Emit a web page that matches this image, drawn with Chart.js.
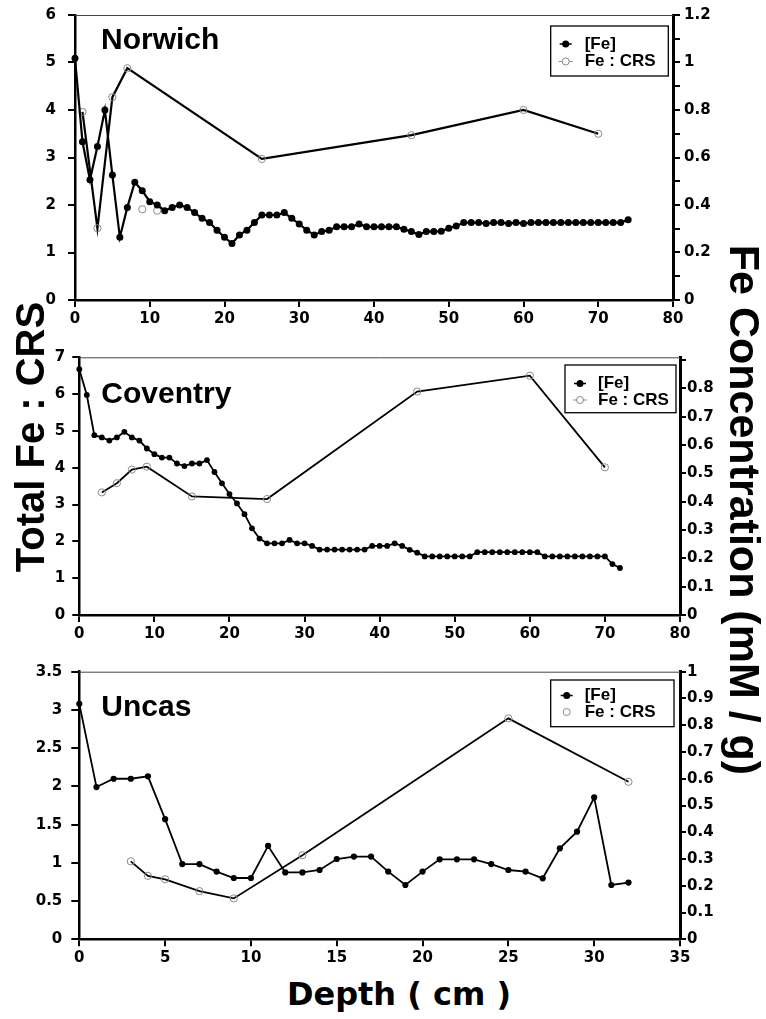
<!DOCTYPE html>
<html><head><meta charset="utf-8">
<script src="https://cdn.jsdelivr.net/npm/chart.js@4.4.1/dist/chart.umd.min.js"></script>
<style>
html,body{margin:0;padding:0;background:#fff;}
body{width:766px;height:1019px;position:relative;overflow:hidden;}
.pc{position:absolute;left:0;width:766px;}
.lbl{position:absolute;font-weight:bold;color:#000;white-space:nowrap;text-align:center;}
</style></head><body>
<div class="pc" style="top:0;height:335px"><canvas id="c1" width="766" height="335"></canvas></div>
<div class="pc" style="top:340px;height:310px"><canvas id="c2" width="766" height="310"></canvas></div>
<div class="pc" style="top:655px;height:320px"><canvas id="c3" width="766" height="320"></canvas></div>
<div class="lbl" style="left:-270px;top:417px;width:600px;height:40px;line-height:40px;font-size:40px;font-family:'Liberation Sans',Arial,sans-serif;transform:rotate(-90deg);">Total Fe : CRS</div>
<div class="lbl" style="left:445px;top:490px;width:600px;height:40px;line-height:40px;font-size:43px;font-family:'Liberation Sans',Arial,sans-serif;transform:rotate(90deg);">Fe Concentration (mM / g)</div>
<div class="lbl" style="left:399px;top:978px;height:32px;line-height:32px;font-size:32px;font-family:'DejaVu Sans',sans-serif;transform:translateX(-50%);">Depth ( cm )</div>
<script>
// ---------- Norwich ----------
const norDepthFe = [0,1,2,3,4,5,6,7,8,9,10,11,12,13,14,15,16,17,18,19,20,21,22,23,24,25,26,27,28,29,30,31,32,33,34,35,36,37,38,39,40,41,42,43,44,45,46,47,48,49,50,51,52,53,54,55,56,57,58,59,60,61,62,63,64,65,66,67,68,69,70,71,72,73,74];
const norFe = [1.018,0.666,0.506,0.646,0.800,0.526,0.264,0.390,0.496,0.460,
  0.414,0.400,0.376,0.390,0.400,0.390,0.368,0.344,0.326,0.294,
  0.264,0.238,0.274,0.294,0.326,0.358,0.358,0.358,0.368,0.344,
  0.320,0.294,0.274,0.288,0.294,0.308,0.308,0.308,0.320,0.308,
  0.308,0.308,0.308,0.308,0.298,0.288,0.276,0.288,0.288,0.290,
  0.302,0.312,0.326,0.326,0.326,0.322,0.326,0.326,0.322,0.326,
  0.322,0.326,0.326,0.326,0.326,0.326,0.326,0.326,0.326,0.326,
  0.326,0.326,0.326,0.326,0.338];
const norDepthCrs = [1,3,5,7,25,45,60,70];
const norCrs = [3.96,1.51,4.27,4.88,2.97,3.47,4.00,3.50];
const norDepthCrsLoose = [9,11];
const norCrsLoose = [1.91,1.88];
const norXTicks = [0,10,20,30,40,50,60,70,80];
const norXLabels = ['0','10','20','30','40','50','60','70','80'];
const norLeftTicks = [0,1,2,3,4,5,6];
const norLeftLabels = ['0','1','2','3','4','5','6'];
const norRightTicks = [0,0.1,0.2,0.3,0.4,0.5,0.6,0.7,0.8,0.9,1.0,1.1,1.2];
const norRightLabels = ['0','','0.2','','0.4','','0.6','','0.8','','1','','1.2'];

// ---------- Coventry ----------
const covDepthFe = [0,1,2,3,4,5,6,7,8,9,10,11,12,13,14,15,16,17,18,19,20,21,22,23,24,25,26,27,28,29,30,31,32,33,34,35,36,37,38,39,40,41,42,43,44,45,46,47,48,49,50,51,52,53,54,55,56,57,58,59,60,61,62,63,64,65,66,67,68,69,70,71,72];
const covFe = [0.868,0.777,0.635,0.627,0.616,0.627,0.647,0.627,0.616,0.588,
  0.568,0.556,0.556,0.535,0.526,0.535,0.535,0.547,0.505,0.465,
  0.427,0.394,0.356,0.306,0.270,0.253,0.253,0.253,0.265,0.253,
  0.253,0.244,0.231,0.231,0.231,0.231,0.231,0.231,0.231,0.244,
  0.244,0.244,0.253,0.244,0.230,0.220,0.207,0.207,0.207,0.207,
  0.207,0.207,0.207,0.222,0.222,0.222,0.222,0.222,0.222,0.222,
  0.222,0.222,0.207,0.207,0.207,0.207,0.207,0.207,0.207,0.207,
  0.207,0.180,0.166];
const covDepthCrs = [3,5,7,9,15,25,45,60,70];
const covCrs = [3.33,3.58,3.95,4.03,3.22,3.15,6.07,6.50,4.01];
const covXTicks = [0,10,20,30,40,50,60,70,80];
const covXLabels = ['0','10','20','30','40','50','60','70','80'];
const covLeftTicks = [0,1,2,3,4,5,6,7];
const covLeftLabels = ['0','1','2','3','4','5','6','7'];
const covRightTicks = [0,0.1,0.2,0.3,0.4,0.5,0.6,0.7,0.8,0.9];
const covRightLabels = ['0','0.1','0.2','0.3','0.4','0.5','0.6','0.7','0.8',''];

// ---------- Uncas ----------
const uncDepthFe = [0,1,2,3,4,5,6,7,8,9,10,11,12,13,14,15,16,17,18,19,20,21,22,23,24,25,26,27,28,29,30,31,32];
const uncFe = [0.880,0.569,0.600,0.600,0.609,0.449,0.281,0.281,0.253,0.229,
  0.229,0.349,0.250,0.250,0.259,0.300,0.309,0.309,0.253,0.203,
  0.253,0.299,0.299,0.299,0.281,0.259,0.253,0.228,0.340,0.402,
  0.530,0.203,0.212];
const uncDepthCrs = [3,4,5,7,9,13,25,32];
const uncCrs = [1.02,0.83,0.785,0.63,0.535,1.10,2.89,2.06];
const uncXTicks = [0,5,10,15,20,25,30,35];
const uncXLabels = ['0','5','10','15','20','25','30','35'];
const uncLeftTicks = [0,0.5,1,1.5,2,2.5,3,3.5];
const uncLeftLabels = ['0','0.5','1','1.5','2','2.5','3','3.5'];
const uncRightTicks = [0,0.1,0.2,0.3,0.4,0.5,0.6,0.7,0.8,0.9,1];
const uncRightLabels = ['0','0.1','0.2','0.3','0.4','0.5','0.6','0.7','0.8','0.9','1'];

const seriesNames = ['[Fe]', 'Fe : CRS'];

// ---------- helpers ----------
const zip = (xs, ys) => xs.map((x, i) => ({x: x, y: ys[i]}));
const tickFont = {family: "'DejaVu Sans', sans-serif", weight: 'bold', size: 15};

function axisX(max, ticks, labels, height) {
  return {
    type: 'linear', position: 'bottom', min: 0, max: max,
    afterBuildTicks: s => { s.ticks = ticks.map(v => ({value: v})); },
    afterFit: s => { s.height = height; s.paddingLeft = 0; s.paddingRight = 0; },
    ticks: {autoSkip: false, maxRotation: 0, color: '#000', font: tickFont, padding: 3,
      callback: (v, i) => labels[i]},
    grid: {drawOnChartArea: false, drawTicks: true, tickLength: 7, color: '#000', lineWidth: 2},
    border: {display: true, color: '#000', width: 2.5}
  };
}
function axisY(pos, max, ticks, labels, width, tl, pad, bw) {
  return {
    type: 'linear', position: pos, min: 0, max: max,
    afterBuildTicks: s => { s.ticks = ticks.map(v => ({value: v})); },
    afterFit: s => { s.width = width; s.paddingTop = 0; s.paddingBottom = 0; },
    ticks: {autoSkip: false, color: '#000', font: tickFont, padding: pad,
      callback: (v, i) => labels[i]},
    grid: {drawOnChartArea: false, drawTicks: true, tickLength: tl, color: '#000', lineWidth: 2},
    border: {display: true, color: '#000', width: bw}
  };
}

const deco = {
  id: 'deco',
  afterDatasetsDraw(chart, args, o) {
    const ctx = chart.ctx, a = chart.chartArea;
    ctx.save();
    // top frame line
    ctx.strokeStyle = '#444'; ctx.lineWidth = 1;
    ctx.beginPath(); ctx.moveTo(a.left, a.top + 0.5); ctx.lineTo(a.right, a.top + 0.5); ctx.stroke();
    // panel title
    ctx.fillStyle = '#000';
    ctx.font = "bold 30px 'Liberation Sans', Arial, sans-serif";
    ctx.textAlign = 'left'; ctx.textBaseline = 'alphabetic';
    ctx.fillText(o.title, a.left + o.tx, a.top + o.ty);
    // legend box
    const bx = a.right - o.lr - o.lw, by = a.top + o.lt;
    ctx.fillStyle = '#fff'; ctx.fillRect(bx, by, o.lw, o.lh);
    ctx.strokeStyle = '#000'; ctx.lineWidth = 1.3; ctx.strokeRect(bx, by, o.lw, o.lh);
    const sx = bx + o.sx, tx = bx + o.txo;
    const r1 = by + o.r1, r2 = by + o.r2;
    // [Fe] symbol
    ctx.strokeStyle = '#000'; ctx.lineWidth = 1.5;
    ctx.beginPath(); ctx.moveTo(sx - 6, r1); ctx.lineTo(sx + 6, r1); ctx.stroke();
    ctx.fillStyle = '#000';
    ctx.beginPath(); ctx.arc(sx, r1, 3.5, 0, Math.PI * 2); ctx.fill();
    // Fe:CRS symbol
    ctx.strokeStyle = '#888'; ctx.lineWidth = 1;
    if (o.crsLine) { ctx.beginPath(); ctx.moveTo(sx - 7, r2); ctx.lineTo(sx + 7, r2); ctx.stroke(); }
    ctx.fillStyle = '#fff';
    ctx.beginPath(); ctx.arc(sx, r2, 3.5, 0, Math.PI * 2); ctx.fill(); ctx.stroke();
    // texts
    ctx.fillStyle = '#000';
    ctx.font = "bold 17px 'Liberation Sans', Arial, sans-serif";
    ctx.textBaseline = 'middle';
    ctx.fillText(chart.data.datasets[0].label, tx, r1);
    ctx.fillText(chart.data.datasets[1].label, tx, r2);
    ctx.restore();
  }
};

function feSet(xs, ys, r, lw) {
  return {label: seriesNames[0], data: zip(xs, ys), yAxisID: 'y1', showLine: true,
    borderColor: '#000', borderWidth: lw, pointRadius: r, pointBackgroundColor: '#000',
    pointBorderColor: '#000', pointBorderWidth: 0, pointHoverRadius: r, clip: false};
}
function crsSet(xs, ys, line, lw) {
  return {label: seriesNames[1], data: zip(xs, ys), yAxisID: 'y', showLine: line,
    borderColor: '#000', borderWidth: lw, pointRadius: 3.6, pointBackgroundColor: 'rgba(255,255,255,0)',
    pointBorderColor: '#8a8a8a', pointBorderWidth: 1, pointHoverRadius: 3.6, clip: false};
}
function makeChart(id, datasets, padTop, scales, decoOpts) {
  return new Chart(document.getElementById(id), {
    type: 'scatter',
    data: {datasets: datasets},
    options: {
      responsive: false, animation: false, events: [],
      layout: {padding: {top: padTop, left: 0, right: 0, bottom: 0}},
      plugins: {legend: {display: false}, tooltip: {enabled: false}, deco: decoOpts},
      scales: scales
    },
    plugins: [deco]
  });
}

makeChart('c1',
  [feSet(norDepthFe, norFe, 3.5, 2.2), crsSet(norDepthCrs, norCrs, true, 2.2), crsSet(norDepthCrsLoose, norCrsLoose, false, 2.2)],
  15,
  {x: axisX(80, norXTicks, norXLabels, 35),
   y: axisY('left', 6, norLeftTicks, norLeftLabels, 75, 7, 12, 2.5),
   y1: axisY('right', 1.2, norRightTicks, norRightLabels, 93, 7, 4, 3)},
  {title: 'Norwich', tx: 26, ty: 34, lr: 4.7, lt: 11, lw: 117.6, lh: 50, sx: 15, txo: 34, r1: 18, r2: 35.5, crsLine: true});

makeChart('c2',
  [feSet(covDepthFe, covFe, 2.9, 1.8), crsSet(covDepthCrs, covCrs, true, 1.8)],
  17.3,
  {x: axisX(80, covXTicks, covXLabels, 35),
   y: axisY('left', 7, covLeftTicks, covLeftLabels, 79.3, 7, 7, 2.5),
   y1: axisY('right', 0.91, covRightTicks, covRightLabels, 86, 6, 1, 3)},
  {title: 'Coventry', tx: 22, ty: 46, lr: 4, lt: 7.7, lw: 111, lh: 47.7, sx: 15, txo: 33, r1: 18.5, r2: 35, crsLine: true});

makeChart('c3',
  [feSet(uncDepthFe, uncFe, 3.1, 1.8), crsSet(uncDepthCrs, uncCrs, true, 1.8)],
  16.7,
  {x: axisX(35, uncXTicks, uncXLabels, 35.7),
   y: axisY('left', 3.5, uncLeftTicks, uncLeftLabels, 79.3, 8, 9, 2.5),
   y1: axisY('right', 1, uncRightTicks, uncRightLabels, 86, 6, 1, 3)},
  {title: 'Uncas', tx: 22, ty: 44, lr: 6, lt: 8.3, lw: 123.3, lh: 46.7, sx: 16, txo: 34, r1: 15.5, r2: 32, crsLine: false});
</script>
</body></html>
